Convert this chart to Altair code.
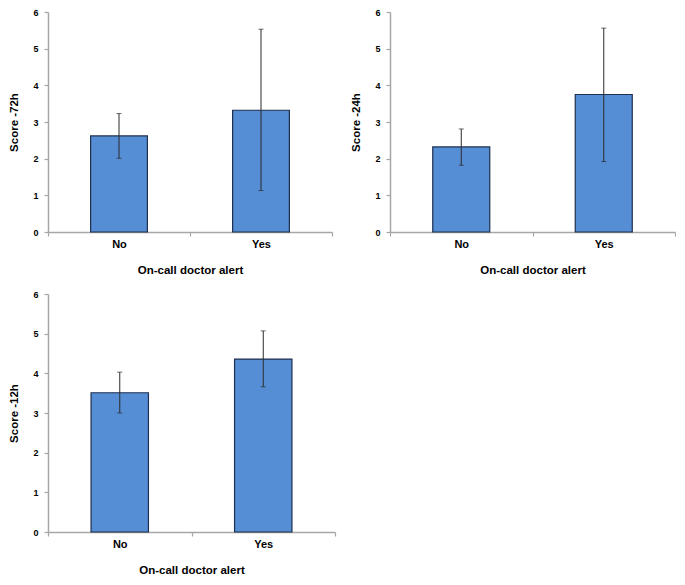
import altair as alt
import pandas as pd

categories = ["No", "Yes"]

means_72 = [2.62, 3.32]
lo_72 = [2.01, 1.13]
hi_72 = [3.23, 5.53]

means_24 = [2.32, 3.75]
lo_24 = [1.82, 1.92]
hi_24 = [2.81, 5.56]

means_12 = [3.51, 4.36]
lo_12 = [3.00, 3.66]
hi_12 = [4.03, 5.07]

y_ticks = [0, 1, 2, 3, 4, 5, 6]

BAR_FILL = "#558ed5"
BAR_STROKE = "#1f2f4d"
ERR = "#2b2b2b"
AXIS_GRAY = "#a6a6a6"
FONT = "Liberation Sans"


def panel(means, lo, hi, ytitle, w, h):
    df = pd.DataFrame({"cat": categories, "mean": means, "lo": lo, "hi": hi})
    base = alt.Chart(df)
    xscale = alt.Scale(paddingInner=0, paddingOuter=0)
    yscale = alt.Scale(domain=[0, 6], nice=False)
    x_axis = alt.Axis(
        title="On-call doctor alert",
        labelAngle=0,
        tickBand="extent",
        tickSize=4,
        labelPadding=2,
        labelFontSize=11,
        titlePadding=15,
    )
    y_axis = alt.Axis(
        title=ytitle,
        values=y_ticks,
        tickSize=4,
        labelPadding=6,
        labelFontSize=9,
        titlePadding=13,
        grid=False,
    )
    x = alt.X("cat:N", sort=categories, scale=xscale, axis=x_axis)
    bars = base.mark_bar(
        width=alt.RelativeBandSize(0.4),
        fill=BAR_FILL,
        stroke=BAR_STROKE,
        strokeWidth=1.2,
    ).encode(
        x=x,
        y=alt.Y("mean:Q", scale=yscale, axis=y_axis),
    )
    rule = base.mark_rule(color=ERR, strokeWidth=1).encode(
        x=x, y=alt.Y("lo:Q", scale=yscale, axis=y_axis), y2="hi:Q"
    )
    cap_lo = base.mark_tick(color=ERR, thickness=1, size=5).encode(
        x=x, y=alt.Y("lo:Q", scale=yscale, axis=y_axis)
    )
    cap_hi = base.mark_tick(color=ERR, thickness=1, size=5).encode(
        x=x, y=alt.Y("hi:Q", scale=yscale, axis=y_axis)
    )
    return alt.layer(bars, rule, cap_lo, cap_hi).properties(width=w, height=h)


p1 = panel(means_72, lo_72, hi_72, "Score -72h", 284, 220)
p2 = panel(means_24, lo_24, hi_24, "Score -24h", 285, 220)
p3 = panel(means_12, lo_12, hi_12, "Score -12h", 287, 238)

chart = (
    alt.vconcat(
        alt.hconcat(p1, p2, spacing=17),
        p3,
        spacing=14,
    )
    .properties(padding=0)
    .configure_view(stroke=None)
    .configure_axis(
        domainColor=AXIS_GRAY,
        domainWidth=1.5,
        tickColor=AXIS_GRAY,
        tickWidth=1.2,
        labelFont=FONT,
        labelFontWeight="bold",
        labelColor="#000000",
        titleFont=FONT,
        titleFontWeight="bold",
        titleFontSize=11.5,
        titleColor="#000000",
    )
)

chart.save("out.html", embed_options={"renderer": "svg", "actions": False})
